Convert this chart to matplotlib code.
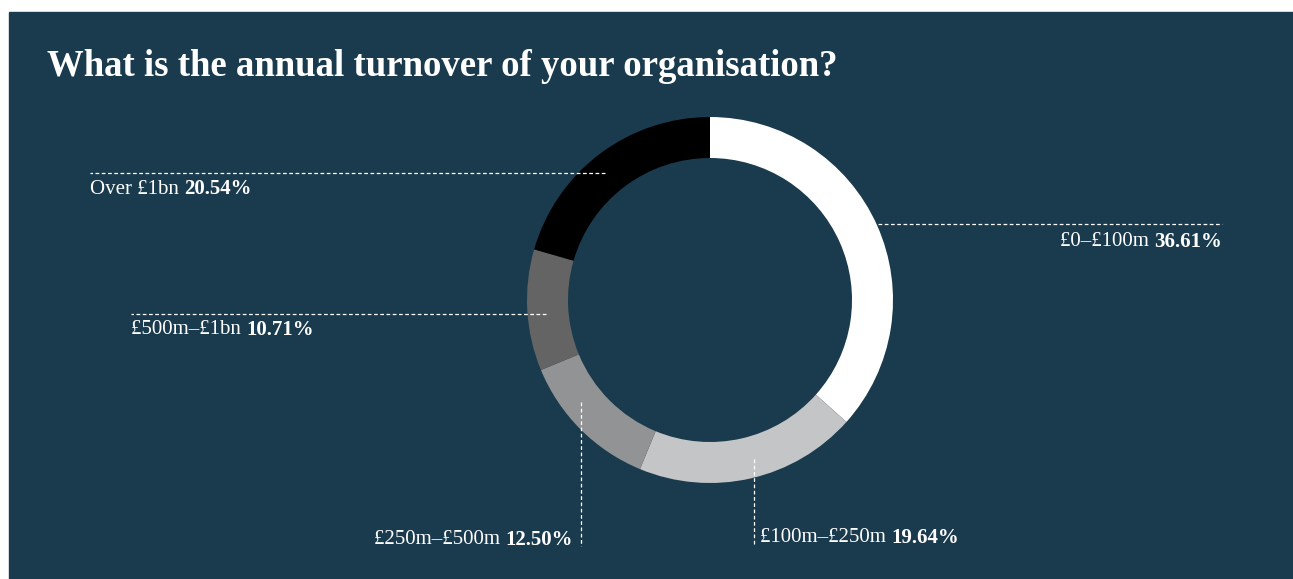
#!/usr/bin/env python3
import numpy as np
import matplotlib
matplotlib.use('Agg')
import matplotlib.pyplot as plt
from matplotlib.patches import Rectangle

# data, clockwise from 12 o'clock
labels = ['£0–£100m', '£100m–£250m', '£250m–£500m', '£500m–£1bn', 'Over £1bn']
shares = [36.61, 19.64, 12.50, 10.71, 20.54]
colors = ['#ffffff', '#c4c5c6', '#929395', '#646464', '#000000']
title = 'What is the annual turnover of your organisation?'

W, H = 1293, 579
BG = '#1a3a4d'
plt.rcParams['font.family'] = ['Liberation Serif', 'DejaVu Serif']

fig = plt.figure(figsize=(W/100, H/100), dpi=100, facecolor='white')
ax = fig.add_axes([0, 0, 1, 1])
ax.add_patch(Rectangle((9, 0), W-9, H-12, color=BG, zorder=0))

cx, cy = 710, H-300
r_out, ring = 183, 41
wedges, _ = ax.pie(shares, colors=colors, startangle=90, counterclock=False,
                   radius=r_out, center=(cx, cy),
                   wedgeprops=dict(width=ring, linewidth=0))
ax.set_xlim(0, W)
ax.set_ylim(0, H)
ax.set_aspect('equal')
ax.axis('off')

fig.text(47/W, 1-66/H, title, color='white', fontsize=26.5, fontweight='bold',
         va='center', ha='left')

# leader layout: (direction, line coord, end coord, label anchor x, label y, align)
# line coord = pixel row (h) or column (v) of the dashed leader
layout = [
    ('h', 224, 1222, 1222, 242, 'right'),
    ('v', 754, 546, 760, 538, 'left'),
    ('v', 581, 546, 573, 540, 'right'),
    ('h', 314, 131, 131, 330, 'left'),
    ('h', 173, 90, 90, 189, 'left'),
]

renderer = fig.canvas.get_renderer()
fs = 15
dash = dict(color='white', lw=0.9, ls=(0, (3, 2)))
for w, lab, val, (d, lc, end, lx, ly, al) in zip(wedges, labels, shares, layout):
    ang = np.deg2rad((w.theta1 + w.theta2) / 2)
    # white slice: start line at outer edge so it stays visible
    rr = r_out + 1 if w.get_facecolor()[0] > 0.99 else r_out - ring/2 + 2
    if d == 'h':
        py = H - lc
        px = cx + np.sign(np.cos(ang)) * np.sqrt(rr**2 - (py-cy)**2)
        ax.plot([px, end], [py, py], **dash)
    else:
        px = lc
        py = cy + np.sign(np.sin(ang)) * np.sqrt(rr**2 - (px-cx)**2)
        ax.plot([px, px], [py, H-end], **dash)
    y = H - ly
    pct = f'{val:.2f}%'
    if al == 'left':
        t = ax.text(lx, y, lab + ' ', color='white', fontsize=fs, va='center', ha='left')
        bb = t.get_window_extent(renderer)
        ax.text(bb.x1, y, pct, color='white', fontsize=fs, fontweight='bold',
                va='center', ha='left')
    else:
        t = ax.text(lx, y, pct, color='white', fontsize=fs, fontweight='bold',
                    va='center', ha='right')
        bb = t.get_window_extent(renderer)
        ax.text(bb.x0, y, lab + ' ', color='white', fontsize=fs, va='center', ha='right')

fig.savefig('out.png', dpi=100, facecolor=fig.get_facecolor())
